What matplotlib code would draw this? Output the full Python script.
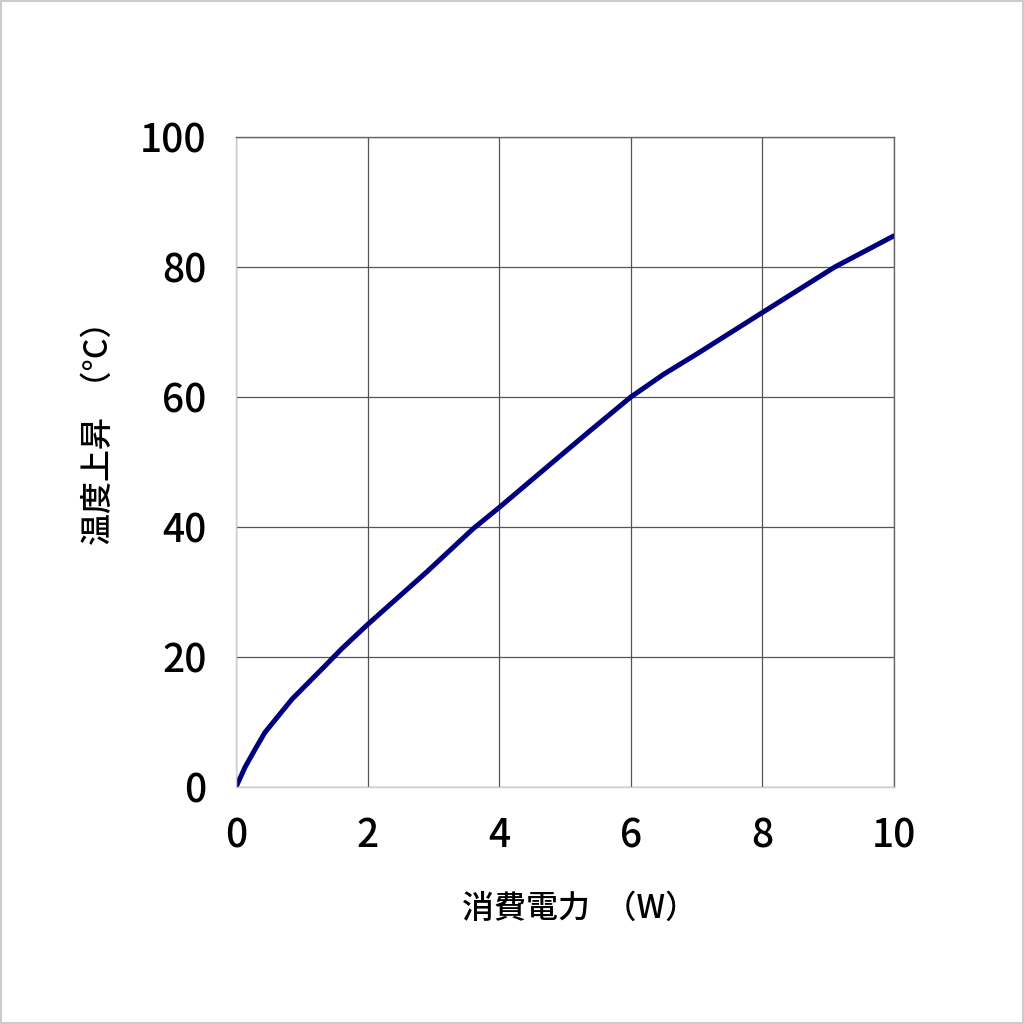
import matplotlib
matplotlib.use("Agg")
import matplotlib.pyplot as plt
from matplotlib.patches import Rectangle

plt.rcParams['font.family'] = ['Noto Sans CJK JP', 'DejaVu Sans']

# power dissipation (W) vs temperature rise (deg C)
power = [0, 0.14, 0.29, 0.44, 0.85, 1.35, 1.6, 2.0, 2.9, 3.6, 4.0,
         4.77, 5.38, 6.0, 6.5, 7.0, 8.0, 9.1, 10.0]
temp_rise = [0, 3.1, 5.8, 8.4, 13.5, 18.6, 21.2, 25.0, 33.1, 39.7, 43.0,
             49.6, 54.8, 60.0, 63.5, 66.6, 73.0, 80.0, 84.8]

x_ticks = [0, 2, 4, 6, 8, 10]
y_ticks = [0, 20, 40, 60, 80, 100]

fig = plt.figure(figsize=(10.24, 10.24), dpi=100)
ax = fig.add_axes([236/1024, 237/1024, 658/1024, 650/1024])

ax.plot(power, temp_rise, color='#00007f', lw=3.6,
        solid_capstyle='round', solid_joinstyle='round')

ax.set_xlim(0, 10)
ax.set_ylim(0, 100)
ax.set_xticks(x_ticks)
ax.set_yticks(y_ticks)
ax.tick_params(length=0, pad=21)
for lab in ax.get_xticklabels() + ax.get_yticklabels():
    lab.set_fontsize(28)
    lab.set_fontweight('medium')
ax.set_axisbelow(True)
ax.grid(True, color='#555555', lw=0.9)

for s in ['top', 'right']:
    ax.spines[s].set_color('#666666')
    ax.spines[s].set_linewidth(1.0)
for s in ['left', 'bottom']:
    ax.spines[s].set_color('#cccccc')
    ax.spines[s].set_linewidth(1.0)

ax.set_xlabel('消費電力  （W）', fontsize=23, fontweight='medium')
ax.set_ylabel('温度上昇  （°C）', fontsize=23, fontweight='medium')
ax.xaxis.set_label_coords(0.522, -0.163)
ax.yaxis.set_label_coords(-0.184, 0.557)

# thin grey frame around the whole picture
fig.patches.append(Rectangle((0.001, 0.001), 0.998, 0.998, transform=fig.transFigure,
                             fill=False, edgecolor='#cccccc', lw=1.5))

fig.savefig('out.png', dpi=100)
